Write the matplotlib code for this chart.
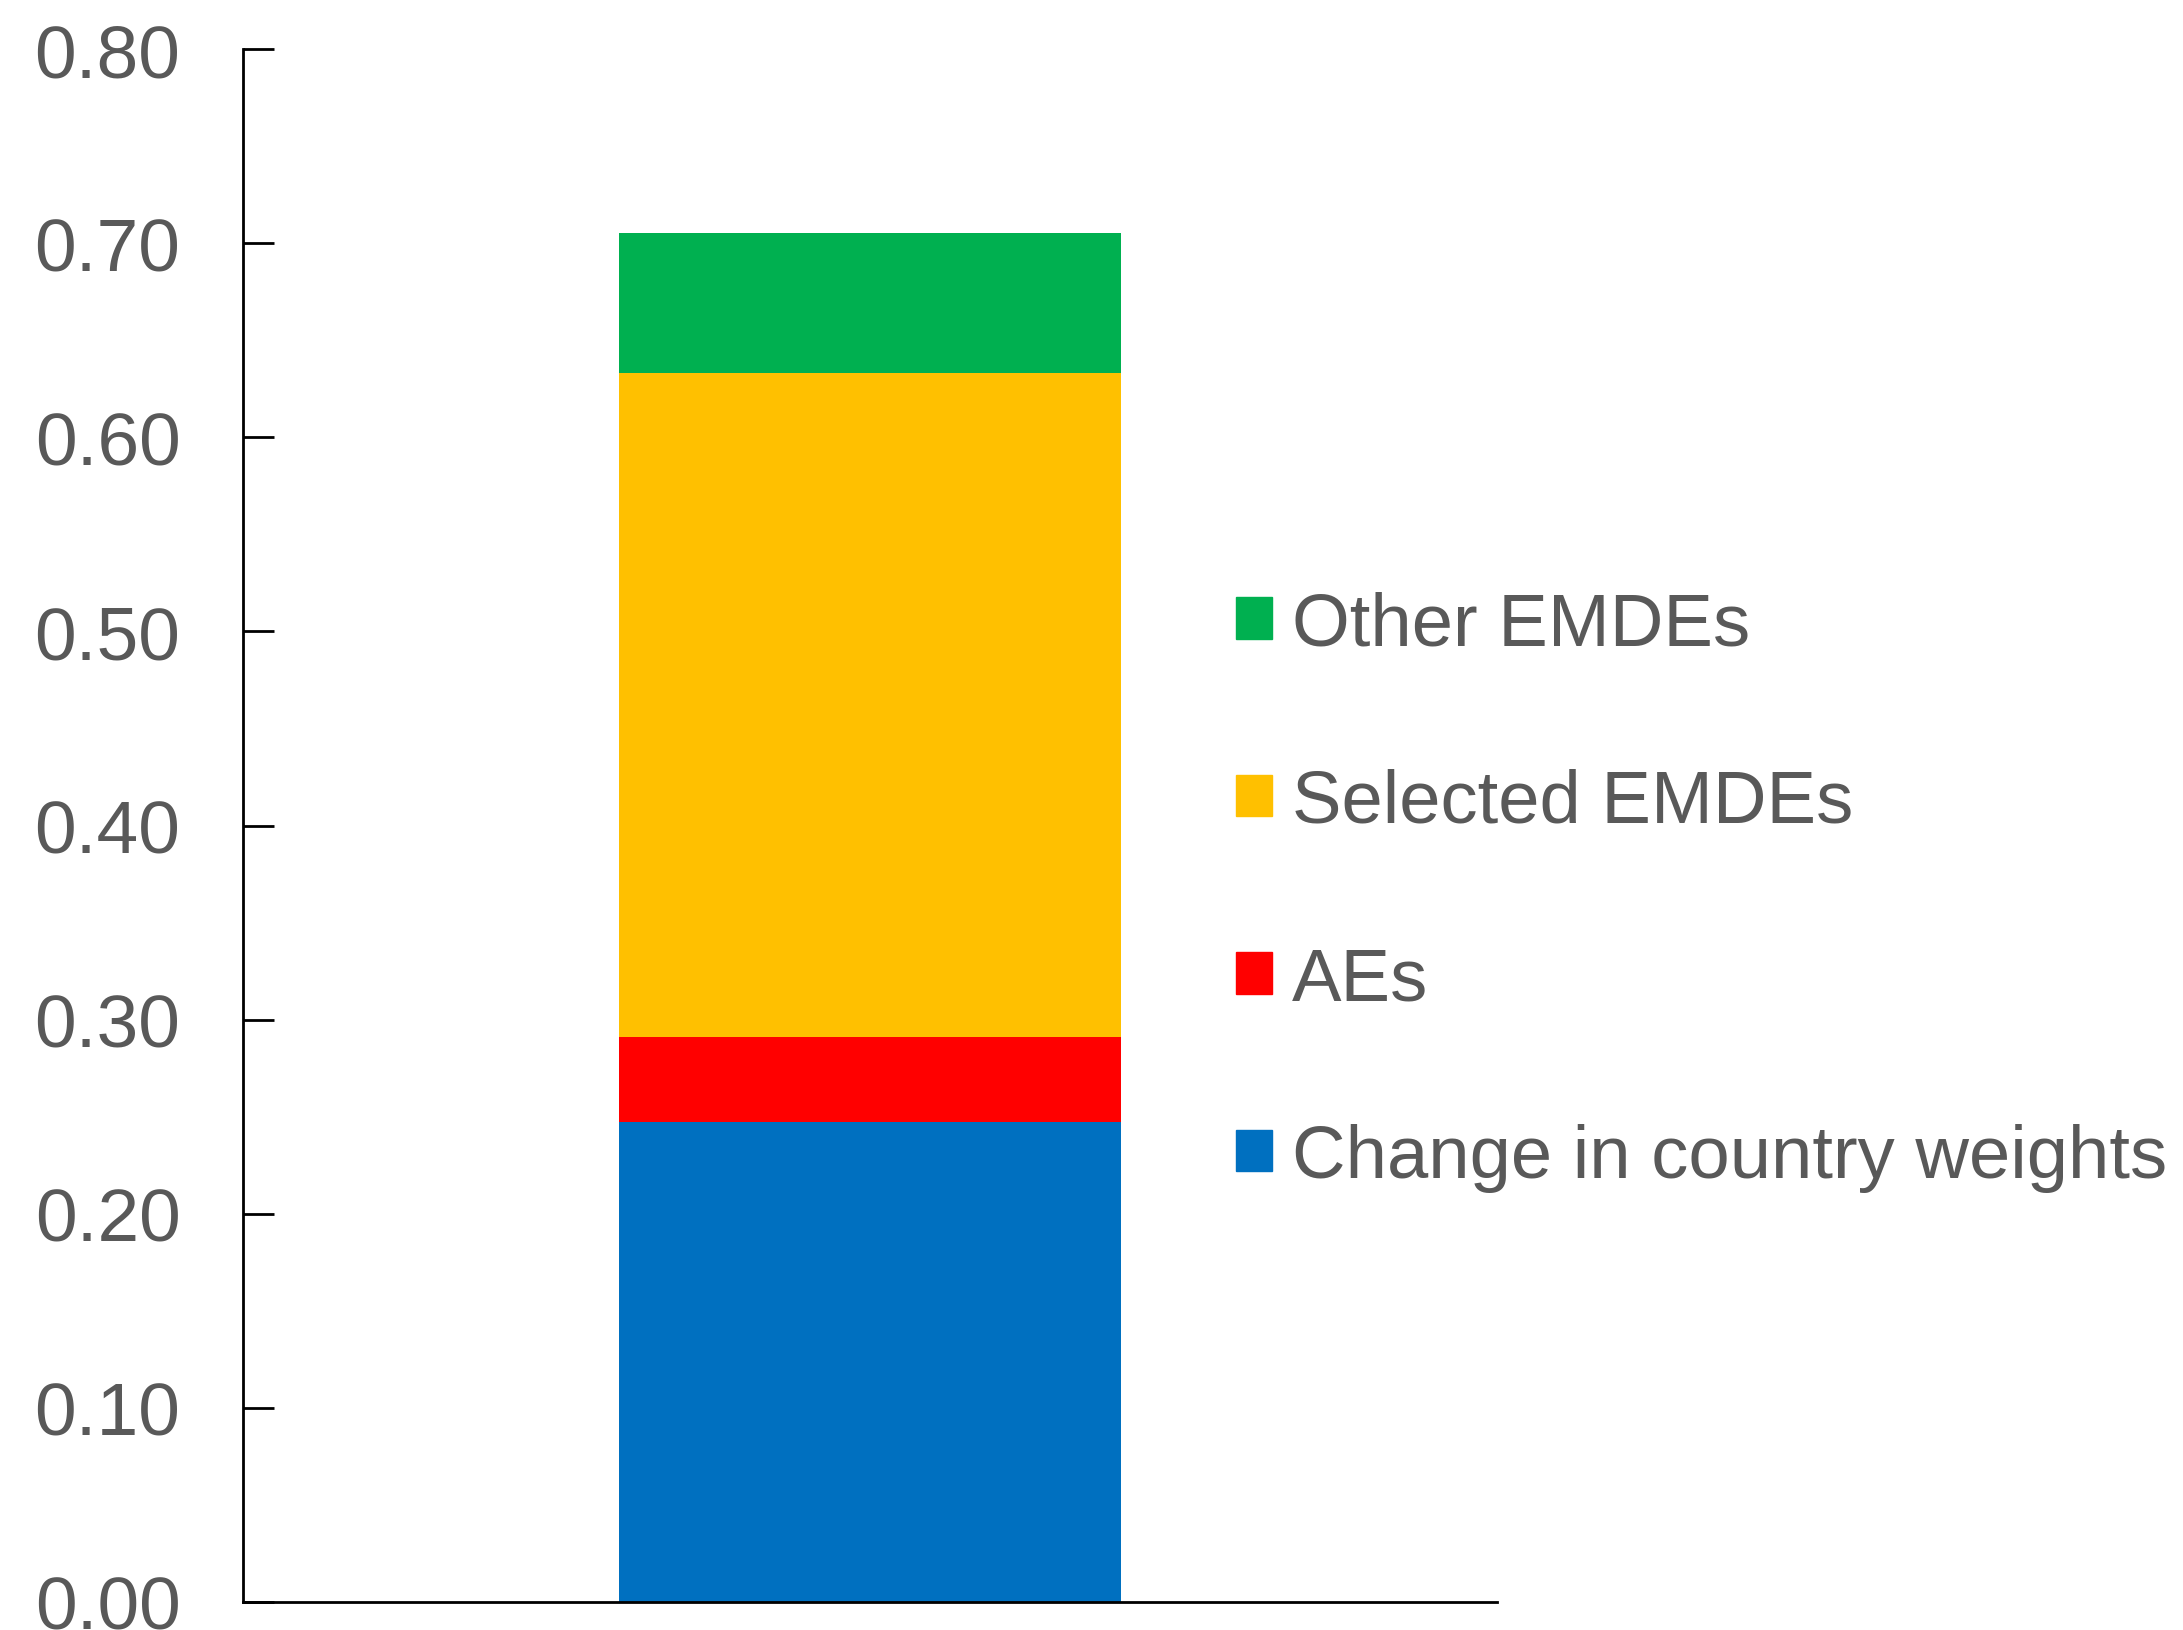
import matplotlib.pyplot as plt
from matplotlib.patches import Patch

#%% datos

labels = ['Change in country weights', 'AEs', 'Selected EMDEs', 'Other EMDEs']
values = [0.247, 0.044, 0.342, 0.072]
colors = ['#0070C0', '#FF0000', '#FFC000', '#00B050']
yticks = [0.0, 0.1, 0.2, 0.3, 0.4, 0.5, 0.6, 0.7, 0.8]

plt.rcParams['font.family'] = ['Liberation Sans', 'DejaVu Sans']
gray = '#595959'

#%% figura

fig = plt.figure(figsize=(21.83, 16.31), dpi=100)
ax = fig.add_axes([0.1113, 0.0172, 0.5745, 0.9521])

bottom = 0.0
for lab, val, col in zip(labels, values, colors):
    ax.bar(0, val, width=1.0, bottom=bottom, color=col, label=lab)
    bottom += val

ax.set_xlim(-1.25, 1.25)
ax.set_ylim(0, 0.8)
ax.set_yticks(yticks)
ax.set_yticklabels(['%.2f' % t for t in yticks])
ax.set_xticks([])
ax.tick_params(axis='y', direction='in', length=22, width=2, colors='black',
               labelcolor=gray, labelsize=54, pad=45)
for s in ['top', 'right']:
    ax.spines[s].set_visible(False)
for s in ['left', 'bottom']:
    ax.spines[s].set_linewidth(2)

handles = [Patch(color=c, label=l) for l, c in zip(labels, colors)][::-1]
fig.legend(handles=handles, loc='center left', bbox_to_anchor=(0.566, 0.453),
           frameon=False, fontsize=53.5, handlelength=0.49, handleheight=0.49,
           handletextpad=0.27, labelspacing=1.46, borderpad=0, borderaxespad=0,
           labelcolor=gray)

plt.savefig('out.png', dpi=100)
